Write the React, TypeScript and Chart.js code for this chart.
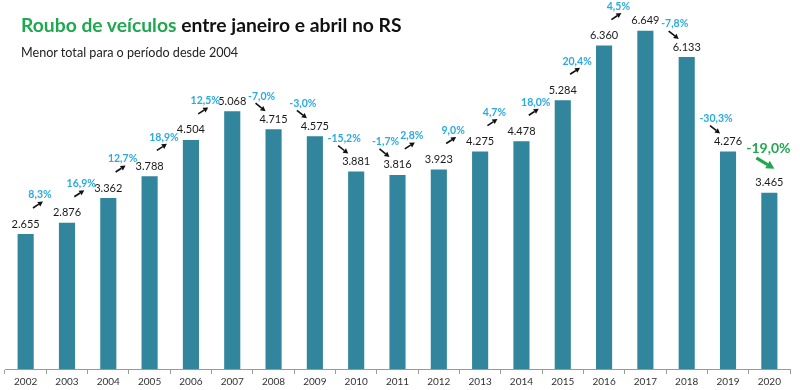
import React, { useEffect, useRef } from "react";
import { Chart, registerables } from "chart.js";

Chart.register(...registerables);

const years = ["2002","2003","2004","2005","2006","2007","2008","2009","2010","2011","2012","2013","2014","2015","2016","2017","2018","2019","2020"];
const values = [2655, 2876, 3362, 3788, 4504, 5068, 4715, 4575, 3881, 3816, 3923, 4275, 4478, 5284, 6360, 6649, 6133, 4276, 3465];
const changes: (number | null)[] = [null, 8.3, 16.9, 12.7, 18.9, 12.5, -7.0, -3.0, -15.2, -1.7, 2.8, 9.0, 4.7, 18.0, 20.4, 4.5, -7.8, -30.3, -19.0];

const BAR = "#31859C";
const CYAN = "#2AAAE0";
const GREEN = "#1FA84F";
const FONT = "Lato, 'Open Sans', sans-serif";

const fmtVal = (v: number) => {
  const s = String(v);
  return s.length > 3 ? s.slice(0, s.length - 3) + "." + s.slice(-3) : s;
};
const fmtPct = (p: number) => p.toFixed(1).replace(".", ",") + "%";

function arrow(ctx: CanvasRenderingContext2D, x1: number, y1: number, x2: number, y2: number, color: string, w: number, head: number) {
  const ang = Math.atan2(y2 - y1, x2 - x1);
  const bx = x2 - head * Math.cos(ang);
  const by = y2 - head * Math.sin(ang);
  ctx.save();
  ctx.strokeStyle = color;
  ctx.fillStyle = color;
  ctx.lineWidth = w;
  ctx.beginPath();
  ctx.moveTo(x1, y1);
  ctx.lineTo(bx, by);
  ctx.stroke();
  ctx.beginPath();
  ctx.moveTo(x2, y2);
  ctx.lineTo(bx + head * 0.55 * Math.sin(ang), by - head * 0.55 * Math.cos(ang));
  ctx.lineTo(bx - head * 0.55 * Math.sin(ang), by + head * 0.55 * Math.cos(ang));
  ctx.closePath();
  ctx.fill();
  ctx.restore();
}

const labelPlugin = {
  id: "labels",
  afterDatasetsDraw(chart: any) {
    const ctx: CanvasRenderingContext2D = chart.ctx;
    const meta = chart.getDatasetMeta(0);
    const els = meta.data;
    ctx.save();
    ctx.textAlign = "center";
    ctx.textBaseline = "middle";
    els.forEach((el: any, i: number) => {
      const labelY = el.y - 10;
      ctx.font = `11px ${FONT}`;
      ctx.fillStyle = "#1a1a1a";
      ctx.fillText(fmtVal(values[i]), el.x, labelY);
      const p = changes[i];
      if (p == null || i === 0) return;
      const prevLabelY = els[i - 1].y - 10;
      const last = i === els.length - 1;
      if (last) {
        const px = el.x - 1;
        const py = labelY - 34;
        ctx.font = `bold 14px ${FONT}`;
        ctx.fillStyle = GREEN;
        ctx.fillText(fmtPct(p), px, py);
        arrow(ctx, px - 12, py + 9, px + 6, py + 20, GREEN, 3.2, 8);
      } else if (p >= 0) {
        const px = el.x - 27;
        const py = prevLabelY - 29;
        ctx.font = `bold 10.5px ${FONT}`;
        ctx.fillStyle = CYAN;
        ctx.fillText(fmtPct(p), px, py);
        arrow(ctx, px - 7, py + 13, px + 3, py + 6.5, "#111", 1.6, 5);
      } else {
        const px = el.x - 12;
        const py = labelY - 23;
        ctx.font = `bold 10.5px ${FONT}`;
        ctx.fillStyle = CYAN;
        ctx.fillText(fmtPct(p), px, py);
        arrow(ctx, px - 6, py + 7, px + 4, py + 15, "#111", 1.6, 5);
      }
    });
    ctx.restore();
  },
};

export default function App() {
  const ref = useRef<HTMLCanvasElement>(null);
  useEffect(() => {
    if (!ref.current) return;
    const chart = new Chart(ref.current, {
      type: "bar",
      data: {
        labels: years,
        datasets: [
          {
            data: values,
            backgroundColor: BAR,
            borderWidth: 0,
            categoryPercentage: 1,
            barPercentage: 0.39,
          },
        ],
      },
      options: {
        responsive: false,
        animation: false,
        layout: { padding: { left: 5, right: 10, top: 13, bottom: 0 } },
        plugins: { legend: { display: false }, tooltip: { enabled: false } },
        scales: {
          y: { display: false, min: 0, max: 7000 },
          x: {
            grid: { display: true, drawOnChartArea: false, drawTicks: true, tickLength: 5, color: "#9a9a9a", offset: true },
            border: { display: true, color: "#9a9a9a" },
            ticks: { color: "#333", font: { family: FONT, size: 10 }, padding: 2, maxRotation: 0, autoSkip: false },
          },
        },
      },
      plugins: [labelPlugin],
    });
    return () => chart.destroy();
  }, []);
  return (
    <div style={{ position: "fixed", left: 0, top: 0, width: 800, height: 390, background: "#fff" }}>
      <canvas ref={ref} width={800} height={390} style={{ position: "absolute", left: 0, top: 0 }} />
      <div style={{ position: "absolute", left: 21, top: 13, fontFamily: FONT, fontWeight: "bold", fontSize: 19.3, lineHeight: "24px", color: "#111", whiteSpace: "nowrap" }}>
        <span style={{ color: GREEN }}>Roubo de veículos</span> entre janeiro e abril no RS
      </div>
      <div style={{ position: "absolute", left: 21, top: 45, fontFamily: FONT, fontSize: 12.6, lineHeight: "16px", color: "#222", whiteSpace: "nowrap" }}>
        Menor total para o período desde 2004
      </div>
    </div>
  );
}
